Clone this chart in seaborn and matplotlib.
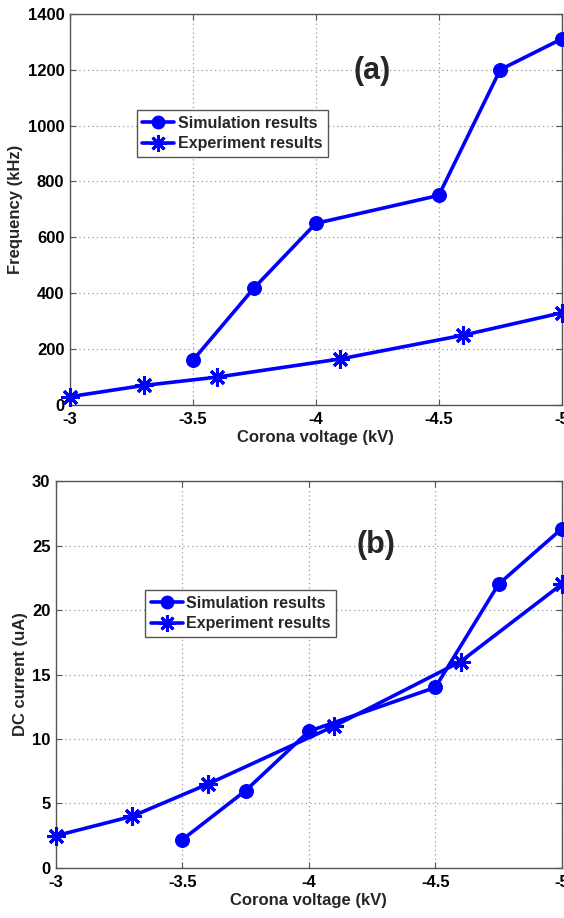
import matplotlib
matplotlib.use("Agg")
import matplotlib.pyplot as plt
import seaborn as sns
import pandas as pd
from matplotlib.lines import Line2D

# Frequency vs corona voltage
sim_v_a = [-3.5, -3.75, -4.0, -4.5, -4.75, -5.0]
sim_f_a = [160, 420, 650, 750, 1200, 1310]
exp_v_a = [-3.0, -3.3, -3.6, -4.1, -4.6, -5.0]
exp_f_a = [30, 70, 100, 165, 250, 330]

# DC current vs corona voltage
sim_v_b = [-3.5, -3.75, -4.0, -4.5, -4.75, -5.0]
sim_i_b = [2.2, 6.0, 10.6, 14.0, 22.0, 26.3]
exp_v_b = [-3.0, -3.3, -3.6, -4.1, -4.6, -5.0]
exp_i_b = [2.5, 4.0, 6.5, 11.0, 16.0, 22.0]

x_ticks = [-3, -3.5, -4, -4.5, -5]
x_tick_labels = ["-3", "-3.5", "-4", "-4.5", "-5"]
y_ticks_a = list(range(0, 1401, 200))
y_ticks_b = list(range(0, 31, 5))

sns.set_theme(style="white")
plt.rcParams["font.family"] = ["Liberation Sans", "DejaVu Sans"]
plt.rcParams["font.weight"] = "bold"

BLUE = "#0000ff"
ASTERISK = (8, 2, 0)

fig = plt.figure(figsize=(5.64, 9.18), dpi=100)
ax_a = fig.add_axes([0.124, 0.5588, 0.872, 0.4262])
ax_b = fig.add_axes([0.0993, 0.0545, 0.8967, 0.4215])


def draw_panel(ax, sv, sy, ev, ey, yticks, ylabel, tag, tag_xy, leg_anchor):
    sim = pd.DataFrame({"v": sv, "y": sy})
    exp = pd.DataFrame({"v": ev, "y": ey})
    sns.lineplot(data=sim, x="v", y="y", ax=ax, color=BLUE, lw=2.6,
                 marker="o", markersize=10, markeredgecolor=BLUE,
                 markerfacecolor=BLUE, sort=False, clip_on=False, zorder=3)
    sns.lineplot(data=exp, x="v", y="y", ax=ax, color=BLUE, lw=2.6,
                 marker=ASTERISK, markersize=13, markeredgewidth=2.2,
                 markeredgecolor=BLUE, sort=False, clip_on=False, zorder=3)
    ax.set_xlim(-3, -5)
    ax.set_ylim(yticks[0], yticks[-1])
    ax.set_xticks(x_ticks)
    ax.set_xticklabels(x_tick_labels)
    ax.set_yticks(yticks)
    ax.set_yticklabels([str(t) for t in yticks])
    ax.grid(True, color="#9a9a9a", linestyle=(0, (1, 2.5)), linewidth=0.9)
    for s in ax.spines.values():
        s.set_color("#555555")
        s.set_linewidth(1.0)
    ax.tick_params(axis="both", direction="in", length=4, width=0.8,
                   colors="#555555", labelcolor="black", labelsize=12,
                   top=True, right=True, bottom=True, left=True)
    ax.tick_params(axis="x", pad=5)
    ax.tick_params(axis="y", pad=4)
    for lab in ax.get_xticklabels() + ax.get_yticklabels():
        lab.set_fontweight("bold")
    ax.set_xlabel("Corona voltage (kV)", fontsize=12, fontweight="bold",
                  labelpad=2)
    ax.set_ylabel(ylabel, fontsize=12, fontweight="bold", labelpad=3)
    ax.text(tag_xy[0], tag_xy[1], tag, transform=ax.transAxes,
            fontsize=22, fontweight="bold", ha="center", va="center")
    handles = [
        Line2D([], [], color=BLUE, lw=2.6, marker="o", markersize=9),
        Line2D([], [], color=BLUE, lw=2.6, marker=ASTERISK, markersize=12,
               markeredgewidth=2.0),
    ]
    leg = ax.legend(handles, ["Simulation results", "Experiment results"],
                    loc="upper left", bbox_to_anchor=leg_anchor,
                    frameon=True, fancybox=False, framealpha=1,
                    edgecolor="#555555", fontsize=11.5, handlelength=2.0,
                    handletextpad=0.2, borderpad=0.35, labelspacing=0.35,
                    borderaxespad=0)
    leg.get_frame().set_linewidth(1.0)
    for t in leg.get_texts():
        t.set_fontweight("bold")


draw_panel(ax_a, sim_v_a, sim_f_a, exp_v_a, exp_f_a, y_ticks_a,
           "Frequency (kHz)", "(a)", (0.615, 0.855), (0.136, 0.754))
draw_panel(ax_b, sim_v_b, sim_i_b, exp_v_b, exp_i_b, y_ticks_b,
           "DC current (uA)", "(b)", (0.632, 0.835), (0.176, 0.718))

fig.savefig("out.png", dpi=100, facecolor="white")
